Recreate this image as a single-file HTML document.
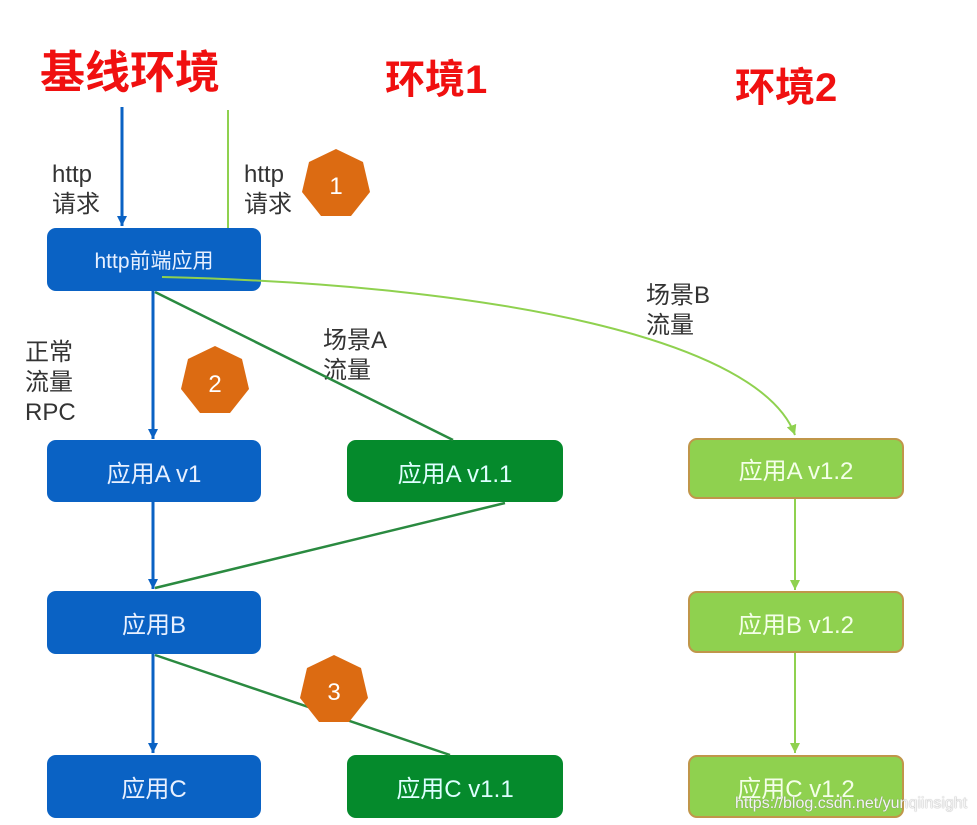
<!DOCTYPE html>
<html><head><meta charset="utf-8"><style>
body{margin:0;width:977px;height:825px;background:#fff;overflow:hidden;position:relative;font-family:"Liberation Sans","Noto Sans CJK SC",sans-serif}
.t{position:absolute;color:#f01010;font-weight:bold;line-height:1}
.b{position:absolute;border-radius:9px;color:#e8f0ff;font-size:24px;display:flex;align-items:center;justify-content:center;box-sizing:border-box}
.bl{background:#0a62c4}.dg{background:#058a2c;color:#dff}.lg{background:#8fd14f;border:2px solid #c0964a;color:#f4ffe8}
.l{position:absolute;font-size:24px;line-height:30px;color:#333}
</style></head><body>
<div class="t" style="left:40px;top:50px;font-size:45px">基线环境</div>
<div class="t" style="left:385px;top:60px;font-size:40px">环境1</div>
<div class="t" style="left:735px;top:68px;font-size:40px">环境2</div>
<div class="l" style="left:52px;top:160px">http<br>请求</div>
<div class="l" style="left:244px;top:160px">http<br>请求</div>
<div class="l" style="left:25px;top:338px">正常<br>流量<br>RPC</div>
<div class="l" style="left:323px;top:326px">场景A<br>流量</div>
<div class="l" style="left:646px;top:281px">场景B<br>流量</div>
<div class="b bl" style="left:47px;top:228px;width:214px;height:63px;font-size:21px">http前端应用</div>
<div class="b bl" style="left:47px;top:440px;width:214px;height:62px">应用A v1</div>
<div class="b dg" style="left:347px;top:440px;width:216px;height:62px">应用A v1.1</div>
<div class="b lg" style="left:688px;top:438px;width:216px;height:61px">应用A v1.2</div>
<div class="b bl" style="left:47px;top:591px;width:214px;height:63px">应用B</div>
<div class="b lg" style="left:688px;top:591px;width:216px;height:62px">应用B v1.2</div>
<div class="b bl" style="left:47px;top:755px;width:214px;height:63px">应用C</div>
<div class="b dg" style="left:347px;top:755px;width:216px;height:63px">应用C v1.1</div>
<div class="b lg" style="left:688px;top:755px;width:216px;height:63px">应用C v1.2</div>
<svg width="977" height="825" style="position:absolute;left:0;top:0">
<defs>
<marker id="ab" markerUnits="userSpaceOnUse" markerWidth="12" markerHeight="12" refX="10" refY="5" orient="auto"><path d="M0,0 L10,5 L0,10z" fill="#0a62c4"/></marker>
<marker id="ag" markerUnits="userSpaceOnUse" markerWidth="12" markerHeight="12" refX="10" refY="5" orient="auto"><path d="M0,0 L10,5 L0,10z" fill="#8fd14f"/></marker>
</defs>
<g stroke="#0a62c4" stroke-width="3" fill="none" marker-end="url(#ab)">
<line x1="122" y1="107" x2="122" y2="226"/>
<line x1="153" y1="291" x2="153" y2="439"/>
<line x1="153" y1="502" x2="153" y2="589"/>
<line x1="153" y1="654" x2="153" y2="753"/>
</g>
<g stroke="#2a8a40" stroke-width="2.5" fill="none">
<line x1="155" y1="292" x2="453" y2="440"/>
<line x1="505" y1="503" x2="155" y2="588"/>
<line x1="155" y1="655" x2="450" y2="755"/>
</g>
<g stroke="#8fd14f" stroke-width="2" fill="none">
<line x1="228" y1="110" x2="228" y2="228"/>
<path d="M162,277 C500,285 760,340 795,435" marker-end="url(#ag)"/>
<line x1="795" y1="499" x2="795" y2="590" marker-end="url(#ag)"/>
<line x1="795" y1="653" x2="795" y2="753" marker-end="url(#ag)"/>
</g>
<g fill="#dc6b12">
<polygon points="336,149 363,162 370,192 351,216 321,216 302,192 309,162"/>
<polygon points="215,346 242,359 249,389 230,413 200,413 181,389 188,359"/>
<polygon points="334,655 361,668 368,698 349,722 319,722 300,698 307,668"/>
</g>
<g fill="#fff" font-size="24" font-family="Liberation Sans" text-anchor="middle">
<text x="336" y="194">1</text><text x="215" y="392">2</text><text x="334" y="700">3</text>
</g>
</svg>
<div style="position:absolute;left:735px;top:795px;font-size:16px;color:#f4f4f4;text-shadow:0 0 1px #777">https://blog.csdn.net/yunqiinsight</div>
</body></html>
